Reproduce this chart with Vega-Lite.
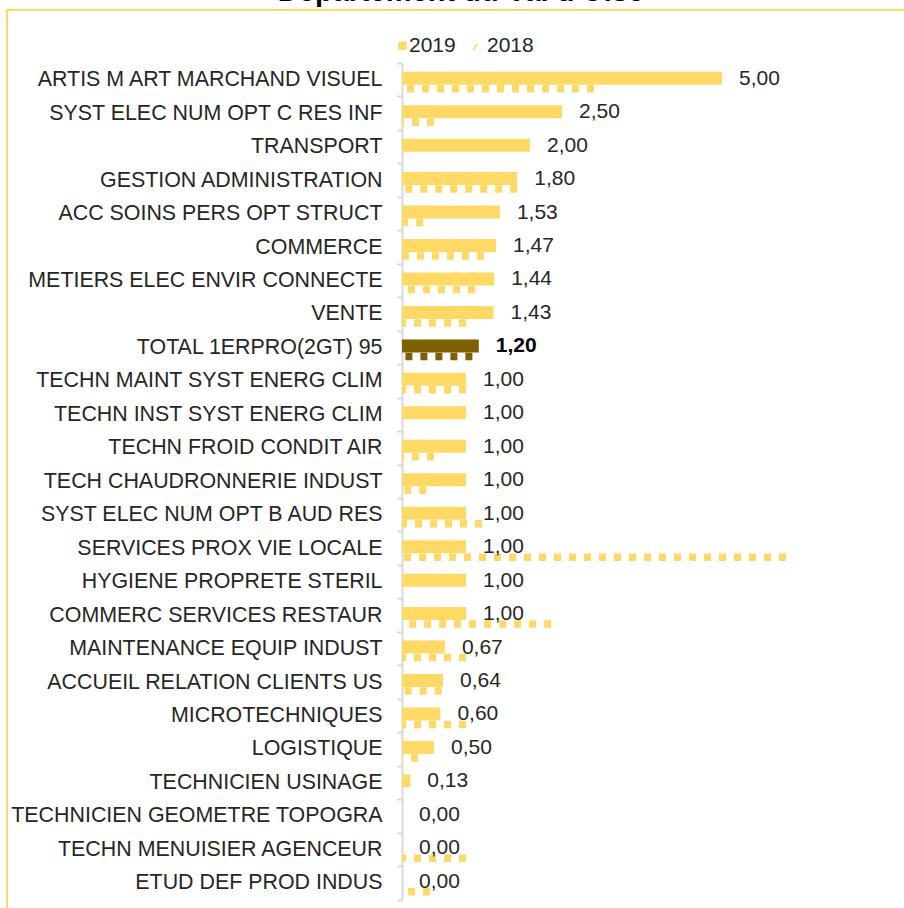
{
  "$schema": "https://vega.github.io/schema/vega-lite/v6.json",
  "autosize": {"type": "none"},
  "padding": {"left": 7, "top": 10, "right": -3, "bottom": -3},
  "width": 900,
  "height": 901,
  "background": "white",
  "title": {
    "text": "Département du Val d'Oise",
    "font": "Liberation Sans",
    "fontSize": 29,
    "fontWeight": "bold",
    "color": "#000000",
    "anchor": "middle",
    "frame": "group",
    "dx": 4,
    "dy": 8,
    "offset": 0
  },
  "data": {
    "values": [
      {"cat": "ARTIS M ART MARCHAND VISUEL", "serie": "2019", "value": 5.00},
      {"cat": "SYST ELEC NUM OPT C RES INF", "serie": "2019", "value": 2.50},
      {"cat": "TRANSPORT", "serie": "2019", "value": 2.00},
      {"cat": "GESTION ADMINISTRATION", "serie": "2019", "value": 1.80},
      {"cat": "ACC SOINS PERS OPT STRUCT", "serie": "2019", "value": 1.53},
      {"cat": "COMMERCE", "serie": "2019", "value": 1.47},
      {"cat": "METIERS ELEC ENVIR CONNECTE", "serie": "2019", "value": 1.44},
      {"cat": "VENTE", "serie": "2019", "value": 1.43},
      {"cat": "TOTAL 1ERPRO(2GT) 95", "serie": "2019", "value": 1.20},
      {"cat": "TECHN MAINT SYST ENERG CLIM", "serie": "2019", "value": 1.00},
      {"cat": "TECHN INST SYST ENERG CLIM", "serie": "2019", "value": 1.00},
      {"cat": "TECHN FROID CONDIT AIR", "serie": "2019", "value": 1.00},
      {"cat": "TECH CHAUDRONNERIE INDUST", "serie": "2019", "value": 1.00},
      {"cat": "SYST ELEC NUM OPT B AUD RES", "serie": "2019", "value": 1.00},
      {"cat": "SERVICES PROX VIE LOCALE", "serie": "2019", "value": 1.00},
      {"cat": "HYGIENE PROPRETE STERIL", "serie": "2019", "value": 1.00},
      {"cat": "COMMERC SERVICES RESTAUR", "serie": "2019", "value": 1.00},
      {"cat": "MAINTENANCE EQUIP INDUST", "serie": "2019", "value": 0.67},
      {"cat": "ACCUEIL RELATION CLIENTS US", "serie": "2019", "value": 0.64},
      {"cat": "MICROTECHNIQUES", "serie": "2019", "value": 0.60},
      {"cat": "LOGISTIQUE", "serie": "2019", "value": 0.50},
      {"cat": "TECHNICIEN USINAGE", "serie": "2019", "value": 0.13},
      {"cat": "TECHNICIEN GEOMETRE TOPOGRA", "serie": "2019", "value": 0.00},
      {"cat": "TECHN MENUISIER AGENCEUR", "serie": "2019", "value": 0.00},
      {"cat": "ETUD DEF PROD INDUS", "serie": "2019", "value": 0.00},
      {"cat": "ARTIS M ART MARCHAND VISUEL", "serie": "2018", "value": 3.00},
      {"cat": "SYST ELEC NUM OPT C RES INF", "serie": "2018", "value": 0.50},
      {"cat": "GESTION ADMINISTRATION", "serie": "2018", "value": 1.80},
      {"cat": "ACC SOINS PERS OPT STRUCT", "serie": "2018", "value": 0.33},
      {"cat": "COMMERCE", "serie": "2018", "value": 1.28},
      {"cat": "METIERS ELEC ENVIR CONNECTE", "serie": "2018", "value": 1.14},
      {"cat": "VENTE", "serie": "2018", "value": 1.00},
      {"cat": "TOTAL 1ERPRO(2GT) 95", "serie": "2018", "value": 1.10},
      {"cat": "TECHN MAINT SYST ENERG CLIM", "serie": "2018", "value": 1.00},
      {"cat": "TECHN FROID CONDIT AIR", "serie": "2018", "value": 0.50},
      {"cat": "TECH CHAUDRONNERIE INDUST", "serie": "2018", "value": 0.38},
      {"cat": "SYST ELEC NUM OPT B AUD RES", "serie": "2018", "value": 1.25},
      {"cat": "SERVICES PROX VIE LOCALE", "serie": "2018", "value": 6.00},
      {"cat": "COMMERC SERVICES RESTAUR", "serie": "2018", "value": 2.33},
      {"cat": "MAINTENANCE EQUIP INDUST", "serie": "2018", "value": 1.00},
      {"cat": "ACCUEIL RELATION CLIENTS US", "serie": "2018", "value": 0.62},
      {"cat": "MICROTECHNIQUES", "serie": "2018", "value": 1.00},
      {"cat": "LOGISTIQUE", "serie": "2018", "value": 0.25},
      {"cat": "TECHN MENUISIER AGENCEUR", "serie": "2018", "value": 1.00},
      {"cat": "ETUD DEF PROD INDUS", "serie": "2018", "value": 0.44}
    ]
  },
  "encoding": {
    "y": {
      "field": "cat",
      "type": "nominal",
      "sort": [
        "ARTIS M ART MARCHAND VISUEL", "SYST ELEC NUM OPT C RES INF", "TRANSPORT", "GESTION ADMINISTRATION",
        "ACC SOINS PERS OPT STRUCT", "COMMERCE", "METIERS ELEC ENVIR CONNECTE", "VENTE", "TOTAL 1ERPRO(2GT) 95",
        "TECHN MAINT SYST ENERG CLIM", "TECHN INST SYST ENERG CLIM", "TECHN FROID CONDIT AIR", "TECH CHAUDRONNERIE INDUST",
        "SYST ELEC NUM OPT B AUD RES", "SERVICES PROX VIE LOCALE", "HYGIENE PROPRETE STERIL", "COMMERC SERVICES RESTAUR",
        "MAINTENANCE EQUIP INDUST", "ACCUEIL RELATION CLIENTS US", "MICROTECHNIQUES", "LOGISTIQUE", "TECHNICIEN USINAGE",
        "TECHNICIEN GEOMETRE TOPOGRA", "TECHN MENUISIER AGENCEUR", "ETUD DEF PROD INDUS"
      ],
      "scale": {"range": [53, 889.5], "paddingInner": 0, "paddingOuter": 0},
      "axis": {
        "title": null,
        "orient": "left",
        "offset": -395,
        "domainColor": "#D9D9D9",
        "domainWidth": 2,
        "tickColor": "#D9D9D9",
        "tickWidth": 2,
        "tickSize": 5,
        "tickBand": "extent",
        "labelFont": "Liberation Sans",
        "labelFontSize": 21.4,
        "labelColor": "#262626",
        "labelPadding": 15,
        "labelLimit": 0
      }
    }
  },
  "layer": [
    {
      "transform": [{"filter": "datum.serie === '2018'"}],
      "mark": {"type": "rule", "strokeWidth": 7.5, "strokeDash": [7, 8], "yOffset": 9},
      "encoding": {
        "x": {"field": "value", "type": "quantitative", "scale": {"domain": [0, 7.890625], "range": [395, 900], "nice": false, "zero": false}, "axis": null},
        "x2": {"datum": 0},
        "color": {
          "field": "serie",
          "type": "nominal",
          "scale": {"domain": ["2019", "2018"], "range": ["#FFD966", "#FFD966"]},
          "condition": {"test": "datum.cat === 'TOTAL 1ERPRO(2GT) 95'", "value": "#7F6000"},
          "legend": {
            "orient": "none",
            "legendX": 385,
            "legendY": 25,
            "direction": "horizontal",
            "title": null,
            "symbolType": "square",
            "symbolSize": 70,
            "symbolFillColor": "#FFD966",
            "symbolStrokeWidth": 0,
            "labelFont": "Liberation Sans",
            "labelFontSize": 21,
            "labelColor": "#262626",
            "labelOffset": -4,
            "columnPadding": 14,
            "encode": {
              "symbols": {
                "update": {
                  "shape": {"signal": "datum.value === '2018' ? 'M-1.9,1 L-1.1,-0.5 L-0.6,-0.5 L-1.4,1 Z' : 'square'"},
                  "fill": {"value": "#FFD966"},
                  "stroke": {"value": "transparent"}
                }
              }
            }
          }
        }
      }
    },
    {
      "transform": [{"filter": "datum.serie === '2019'"}],
      "mark": {"type": "bar", "size": 13, "yOffset": -1.5},
      "encoding": {
        "x": {"field": "value", "type": "quantitative"},
        "color": {
          "field": "serie",
          "type": "nominal",
          "condition": {"test": "datum.cat === 'TOTAL 1ERPRO(2GT) 95'", "value": "#7F6000"}
        }
      }
    },
    {
      "transform": [{"filter": "datum.serie === '2019' && datum.cat !== 'TOTAL 1ERPRO(2GT) 95'"}],
      "mark": {"type": "text", "align": "left", "baseline": "middle", "dx": 17, "yOffset": -1, "font": "Liberation Sans", "fontSize": 21, "color": "#262626"},
      "encoding": {
        "x": {"field": "value", "type": "quantitative"},
        "text": {"field": "value", "type": "quantitative", "format": ".2f"}
      }
    },
    {
      "transform": [{"filter": "datum.serie === '2019' && datum.cat === 'TOTAL 1ERPRO(2GT) 95'"}],
      "mark": {"type": "text", "align": "left", "baseline": "middle", "dx": 17, "yOffset": -1, "font": "Liberation Sans", "fontSize": 21, "fontWeight": "bold", "color": "#000000"},
      "encoding": {
        "x": {"field": "value", "type": "quantitative"},
        "text": {"field": "value", "type": "quantitative", "format": ".2f"}
      }
    }
  ],
  "view": {"stroke": "#FFD966", "strokeWidth": 2},
  "config": {
    "locale": {"number": {"decimal": ",", "thousands": " ", "grouping": [3], "currency": ["", " €"]}}
  }
}
